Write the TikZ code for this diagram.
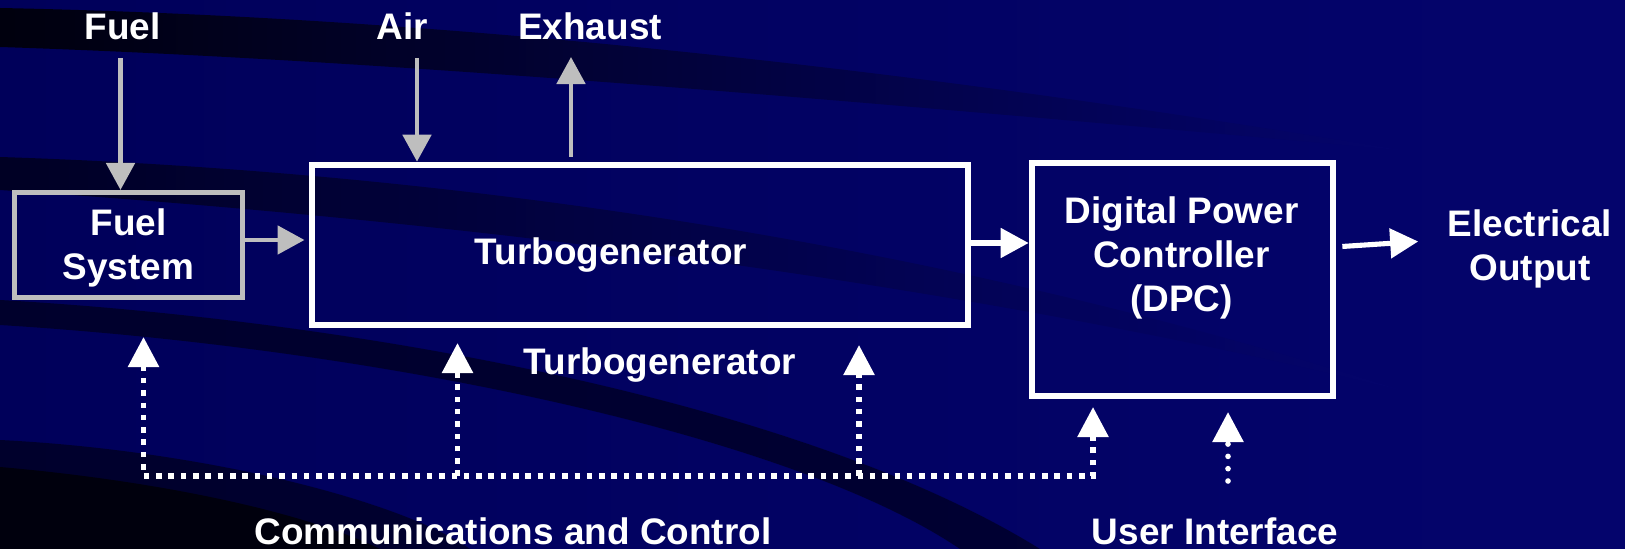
\documentclass[tikz,border=0pt]{standalone}
\usepackage{fontspec}
\setmainfont{Liberation Sans}
\usetikzlibrary{arrows.meta}
\definecolor{bgleft}{RGB}{0,0,90}
\definecolor{bgright}{RGB}{4,4,108}
\definecolor{pipe}{RGB}{190,190,190}
\begin{document}
\begin{tikzpicture}[x=0.01cm,y=-0.01cm,
    lbl/.style={text=white,font=\fontsize{10.5}{12.4}\selectfont\bfseries,align=center,inner sep=0pt},
    graybox/.style={draw=pipe,line width=1.4pt,inner sep=0pt},
    whitebox/.style={draw=white,line width=1.85pt,inner sep=0pt},
    feed/.style={draw=pipe,line width=1.4pt,-{Triangle[width=0.28cm,length=0.27cm]}},
    flow/.style={draw=white,line width=1.45pt,-{Triangle[width=0.29cm,length=0.28cm]}},
    bus/.style={draw=white,line width=1.6pt,dash pattern=on 0.055cm off 0.068cm},
    ctrl/.style={bus,-{Triangle[width=0.3cm,length=0.3cm]}},
    user/.style={draw=white,line width=1.6pt,line cap=round,dash pattern=on 0pt off 0.123cm,
      -{Triangle[width=0.3cm,length=0.3cm]}}]
  \useasboundingbox (0,0) rectangle (1625,549);
  % background and swooshes
  \shade[left color=bgleft,right color=bgright] (0,0) rectangle (1625,549);
  \shade[left color=black!85!bgleft,right color=bgright] (0,8) .. controls (350,15) and (800,50) .. (1400,150)
    .. controls (900,105) and (400,60) .. (0,47) -- cycle;
  \shade[left color=black!60!bgleft,right color=bgright] (0,157) .. controls (400,170) and (900,230) .. (1400,390)
    .. controls (950,280) and (450,220) .. (0,190) -- cycle;
  \fill[black,opacity=0.5] (0,300) .. controls (350,320) and (800,400) .. (1040,549)
    -- (960,549) .. controls (800,440) and (400,350) .. (0,325) -- cycle;
  \fill[black,opacity=0.5] (0,440) .. controls (200,450) and (400,500) .. (470,549) -- (0,549) -- cycle;
  \fill[black,opacity=0.7] (0,467) .. controls (150,480) and (300,510) .. (380,549) -- (0,549) -- cycle;

  % blocks
  \node[graybox,minimum width=2.275cm,minimum height=1.05cm] (fs) at (128.75,245) {};
  \node[whitebox,minimum width=6.56cm,minimum height=1.6cm] (tg) at (640,245) {};
  \node[whitebox,minimum width=3.01cm,minimum height=2.33cm] (dpc) at (1182.5,279.5) {};

  % texts
  \node[lbl,anchor=base] (fuel) at (122.5,39.6) {Fuel};
  \node[lbl,anchor=base] (air) at (402,39.6) {Air};
  \node[lbl,anchor=base] (exhaust) at (590,39.6) {Exhaust};
  \node[lbl] (fstext) at (128.5,248) {Fuel\\System};
  \node[lbl,anchor=base] (tgtext) at (611,265) {Turbogenerator};
  \node[lbl,anchor=base] (tglbl) at (660,374.8) {Turbogenerator};
  \node[lbl] (dpctext) at (1181.5,258) {Digital Power\\Controller\\(DPC)};
  \node[lbl] (elec) at (1530,249) {Electrical\\Output};
  \node[lbl,anchor=base] (comm) at (513,544.8) {Communications and Control};
  \node[lbl,anchor=base] (ui) at (1215,544.8) {User Interface};

  % flows
  \coordinate (fuelsrc) at (120.5,58);
  \coordinate (airsrc) at (417,58);
  \coordinate (exhout) at (571,57);
  \draw[feed] (fuelsrc) -- (fuelsrc |- fs.north);
  \draw[feed] (airsrc) -- (airsrc |- tg.north);
  \draw[feed,shorten <=0.05cm] (exhout |- tg.north) -- (exhout);
  \draw[feed,shorten >=0.04cm] ([yshift=0.05cm]fs.east) -- ([yshift=0.05cm]fs.east -| tg.west);
  \draw[flow] ([yshift=0.02cm]tg.east) -- ([yshift=0.02cm]tg.east -| dpc.west);
  \draw[flow] ([xshift=0.06cm,yshift=0.33cm]dpc.east) -- ([xshift=-0.29cm,yshift=0.075cm]elec.west);

  % communications bus
  \coordinate (c1) at (143.5,476);
  \coordinate (c2) at (457.5,476);
  \coordinate (c3) at (859,476);
  \coordinate (c4) at (1093,476);
  \coordinate (t1) at (143.5,337);
  \coordinate (t2) at (457.5,343);
  \coordinate (t3) at (859,345);
  \coordinate (t4) at (1093,407);
  \draw[bus,{Triangle[width=0.3cm,length=0.3cm]}-{Triangle[width=0.3cm,length=0.3cm]}]
    (t1) -- (c1) -- (c4) -- (t4);
  \draw[ctrl] (c2) -- (t2);
  \draw[ctrl] (c3) -- (t3);
  \coordinate (uisrc) at (1228,481);
  \coordinate (uitop) at (1228,412);
  \draw[user] (uisrc) -- (uitop);
\end{tikzpicture}
\end{document}
